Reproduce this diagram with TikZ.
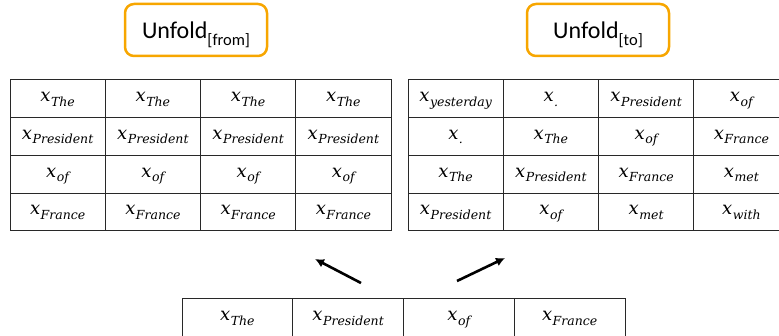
\documentclass[tikz,border=0pt]{standalone}
\usepackage{fontspec}
\newfontfamily\carlito{Carlito}
\newfontfamily\cellfont{DejaVu Serif}
\usetikzlibrary{arrows.meta}
\definecolor{unforange}{RGB}{247,166,0}
\definecolor{gridline}{RGB}{40,40,40}
\tikzset{
  cellbox/.style={draw=gridline, line width=1pt, minimum width=#1, minimum height=37.75pt, inner sep=0pt, text depth=4pt, font=\cellfont\itshape\fontsize{18}{22}\selectfont},
  cellbox/.default=95.25pt,
  unfoldbox/.style={draw=unforange, line width=2.5pt, rounded corners=9pt, minimum width=142pt, minimum height=52pt, inner sep=0pt, font=\carlito\fontsize{24}{28}\selectfont},
  bigarrow/.style={line width=2.6pt, -{Latex[length=9pt,width=9pt]}}
}
\newcommand{\sub}[1]{\raisebox{-7pt}[0pt][0pt]{\fontsize{16.5}{16}\selectfont #1}}
\newcommand{\xv}[1]{x\kern0.5pt\raisebox{-4.5pt}{\fontsize{12.5}{13}\selectfont #1}}
\begin{document}
\begin{tikzpicture}[x=1pt,y=-1pt]
\useasboundingbox (0,0) rectangle (779,336);
% Unfold labels
\node[unfoldbox] (uf) at (196,30) {Unfold\sub{[from]}};
\node[unfoldbox] (ut) at (598,30) {Unfold\sub{[to]}};
% Left table
\foreach \r/\w in {0/The,1/President,2/of,3/France}{
  \foreach \c in {0,1,2,3}{
    \node[cellbox] (L\r\c) at ({10+95.25*\c+47.625},{80+37.75*\r+18.875}) {\xv{\w}};
  }
}
% Right table
\foreach \r/\a/\b/\cc/\d in {0/yesterday/./President/of,1/./The/of/France,2/The/President/France/met,3/President/of/met/with}{
  \node[cellbox] (R\r0) at ({408+47.625},{80+37.75*\r+18.875}) {\xv{\a}};
  \node[cellbox] (R\r1) at ({408+95.25+47.625},{80+37.75*\r+18.875}) {\xv{\b}};
  \node[cellbox] (R\r2) at ({408+2*95.25+47.625},{80+37.75*\r+18.875}) {\xv{\cc}};
  \node[cellbox] (R\r3) at ({408+3*95.25+47.625},{80+37.75*\r+18.875}) {\xv{\d}};
}
% Bottom row
\node[cellbox=110.75pt] (B0) at ({182+55.375},{299+18.875}) {\xv{The}};
\node[cellbox=110.75pt] (B1) at ({182+110.75+55.375},{299+18.875}) {\xv{President}};
\node[cellbox=110.75pt] (B2) at ({182+2*110.75+55.375},{299+18.875}) {\xv{of}};
\node[cellbox=110.75pt] (B3) at ({182+3*110.75+55.375},{299+18.875}) {\xv{France}};
% Arrows
\coordinate (a1s) at (361,283);
\coordinate (a1e) at (315,259);
\coordinate (a2s) at (457,281);
\coordinate (a2e) at (505,258);
\draw[bigarrow] (a1s) -- (a1e);
\draw[bigarrow] (a2s) -- (a2e);
\end{tikzpicture}
\end{document}
